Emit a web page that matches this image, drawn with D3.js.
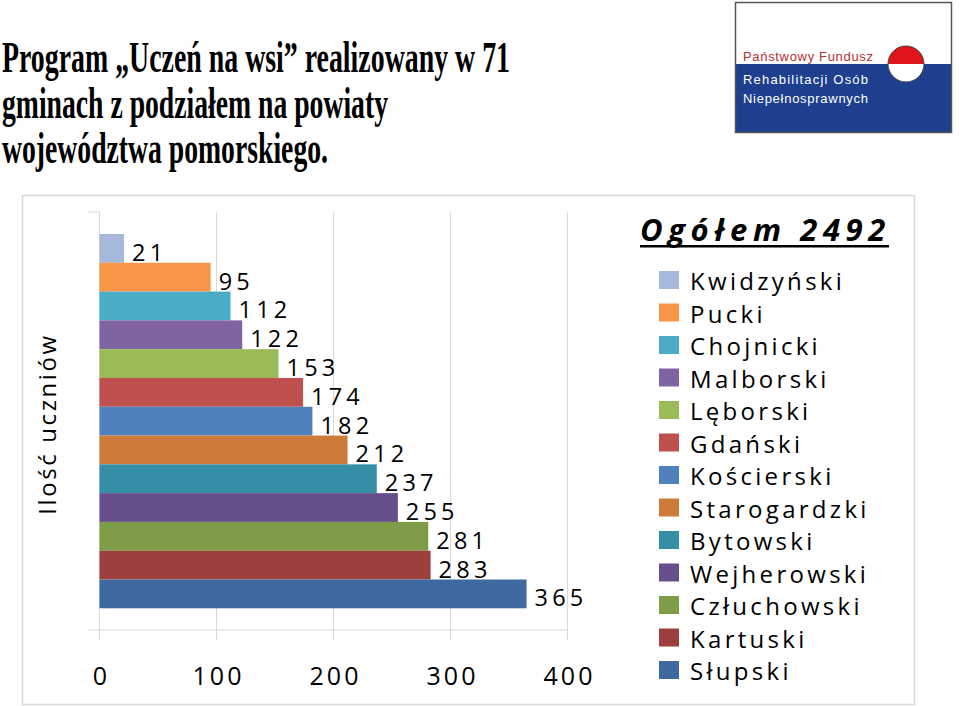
<!DOCTYPE html>
<html><head><meta charset="utf-8">
<script src="https://cdn.jsdelivr.net/npm/d3@7"></script>
<style>body{margin:0;background:#fff}svg{display:block}</style>
</head><body>
<svg id="c" width="960" height="706"></svg>
<script>
const titleLines = ["Program \u201eUczeń na wsi\u201d realizowany w 71", "gminach z podziałem na powiaty", "województwa pomorskiego."];
const categories = ["Kwidzyński","Pucki","Chojnicki","Malborski","Lęborski","Gdański","Kościerski","Starogardzki","Bytowski","Wejherowski","Człuchowski","Kartuski","Słupski"];
const values = [21,95,112,122,153,174,182,212,237,255,281,283,365];
const colors = ["#a7b9da","#f79646","#4bacc6","#8064a2","#9bbb59","#c0504d","#4f81bd","#cd7b38","#348ea5","#674f8b","#7f9c48","#9d3f3c","#3e6a9f"];
const xTicks = [0,100,200,300,400];
const axisTitle = "Ilość uczniów";
const legendTitle = "Ogółem 2492";
const logoLines = ["Państwowy Fundusz","Rehabilitacji Osób","Niepełnosprawnych"];

const svg = d3.select("#c");
const F = "'Open Sans', 'Noto Sans', sans-serif";

// Title
const titleWidths = [508, 386, 326];
titleLines.forEach((t,i)=>{
  svg.append("text").attr("x",2).attr("y",72+i*45.5)
    .attr("font-family","'Liberation Serif','Times New Roman',serif")
    .attr("font-weight","bold").attr("font-size",45)
    .attr("textLength",titleWidths[i]).attr("lengthAdjust","spacingAndGlyphs")
    .attr("fill","#000").text(t);
});

// Logo
const logo = svg.append("g");
logo.append("rect").attr("x",735).attr("y",2).attr("width",217).attr("height",131).attr("fill","#fff");
logo.append("rect").attr("x",735).attr("y",64).attr("width",217).attr("height",69).attr("fill","#1e3f8e");
logo.append("rect").attr("x",735.5).attr("y",2.5).attr("width",216).attr("height",130).attr("fill","none").attr("stroke","#555").attr("stroke-width",1.5);
const LF = "'Liberation Sans',Arial,sans-serif";
const logoY = [61,84,103], logoW = [130,125,125], logoC = ["#b2302f","#fff","#fff"];
logoLines.forEach((t,i)=>{
  logo.append("text").attr("x",743).attr("y",logoY[i]).attr("font-family",LF).attr("font-size",13)
    .attr("textLength",logoW[i]).attr("fill",logoC[i]).text(t);
});
const cx=906, cy=64, r=18;
logo.append("path").attr("d",`M${cx-r},${cy} A${r},${r} 0 0 1 ${cx+r},${cy} Z`).attr("fill","#e0141b");
logo.append("path").attr("d",`M${cx-r},${cy} A${r},${r} 0 0 0 ${cx+r},${cy} Z`).attr("fill","#fff");
logo.append("circle").attr("cx",cx).attr("cy",cy).attr("r",r).attr("fill","none").attr("stroke","#444").attr("stroke-width",1);

// Chart frame
svg.append("rect").attr("x",22.5).attr("y",195.5).attr("width",892).attr("height",509)
  .attr("fill","#fff").attr("stroke","#d9d9d9").attr("stroke-width",1.5);

const x = d3.scaleLinear().domain([0,400]).range([99.5,567.5]);
const y = d3.scaleBand().domain(categories).range([234,608.3]).padding(0);
const plotTop = 212, plotBottom = 630;

// gridlines
svg.append("g").selectAll("line").data(xTicks).join("line")
  .attr("x1",d=>x(d)).attr("x2",d=>x(d)).attr("y1",plotTop).attr("y2",plotBottom+10)
  .attr("stroke","#d9d9d9").attr("stroke-width",1);
svg.append("line").attr("x1",x(0)).attr("x2",x(0)).attr("y1",plotTop).attr("y2",plotBottom).attr("stroke","#d9d9d9");
svg.append("line").attr("x1",88).attr("x2",x(0)).attr("y1",plotTop).attr("y2",plotTop).attr("stroke","#d9d9d9");
svg.append("line").attr("x1",88).attr("x2",x(400)).attr("y1",plotBottom).attr("y2",plotBottom).attr("stroke","#d9d9d9");

// bars
svg.append("g").selectAll("rect").data(values).join("rect")
  .attr("x",x(0)).attr("y",(d,i)=>y(categories[i]))
  .attr("width",d=>x(d)-x(0)).attr("height",y.bandwidth())
  .attr("fill",(d,i)=>colors[i]);

// value labels
svg.append("g").selectAll("text").data(values).join("text")
  .attr("x",d=>x(d)+8).attr("y",(d,i)=>y(categories[i])+y.bandwidth()-2)
  .attr("font-family",F).attr("font-size",23.5).attr("letter-spacing",4.2)
  .attr("fill","#000").text(d=>d);

// x tick labels
const xAxis = d3.axisBottom(x).tickValues(xTicks).tickSize(0).tickPadding(0);
const ax = svg.append("g").attr("transform","translate(0,667)").call(xAxis);
ax.select(".domain").remove();
ax.selectAll("text").attr("font-family",F).attr("font-size",25).attr("letter-spacing",3)
  .attr("text-anchor","middle").attr("dx","1.5").attr("fill","#000").attr("dy","0.71em");

// axis title
svg.append("text").attr("transform","translate(56,424) rotate(-90)").attr("text-anchor","middle")
  .attr("font-family",F).attr("font-size",24).attr("letter-spacing",2.6).attr("fill","#000").text(axisTitle);

// legend
svg.append("text").attr("x",640).attr("y",241).attr("font-family",F).attr("font-size",31)
  .attr("font-weight","bold").attr("font-style","italic").attr("letter-spacing",5.6)
  .attr("fill","#000").text(legendTitle);
svg.append("rect").attr("x",640).attr("y",245).attr("width",249).attr("height",2.5).attr("fill","#000");

const leg = svg.append("g").selectAll("g").data(categories).join("g")
  .attr("transform",(d,i)=>`translate(659,${271+i*32.5})`);
leg.append("rect").attr("width",20).attr("height",18).attr("fill",(d,i)=>colors[i]);
leg.append("text").attr("x",31).attr("y",19).attr("font-family",F).attr("font-size",24)
  .attr("letter-spacing",3.3).attr("fill","#000").text(d=>d);
</script>
</body></html>
